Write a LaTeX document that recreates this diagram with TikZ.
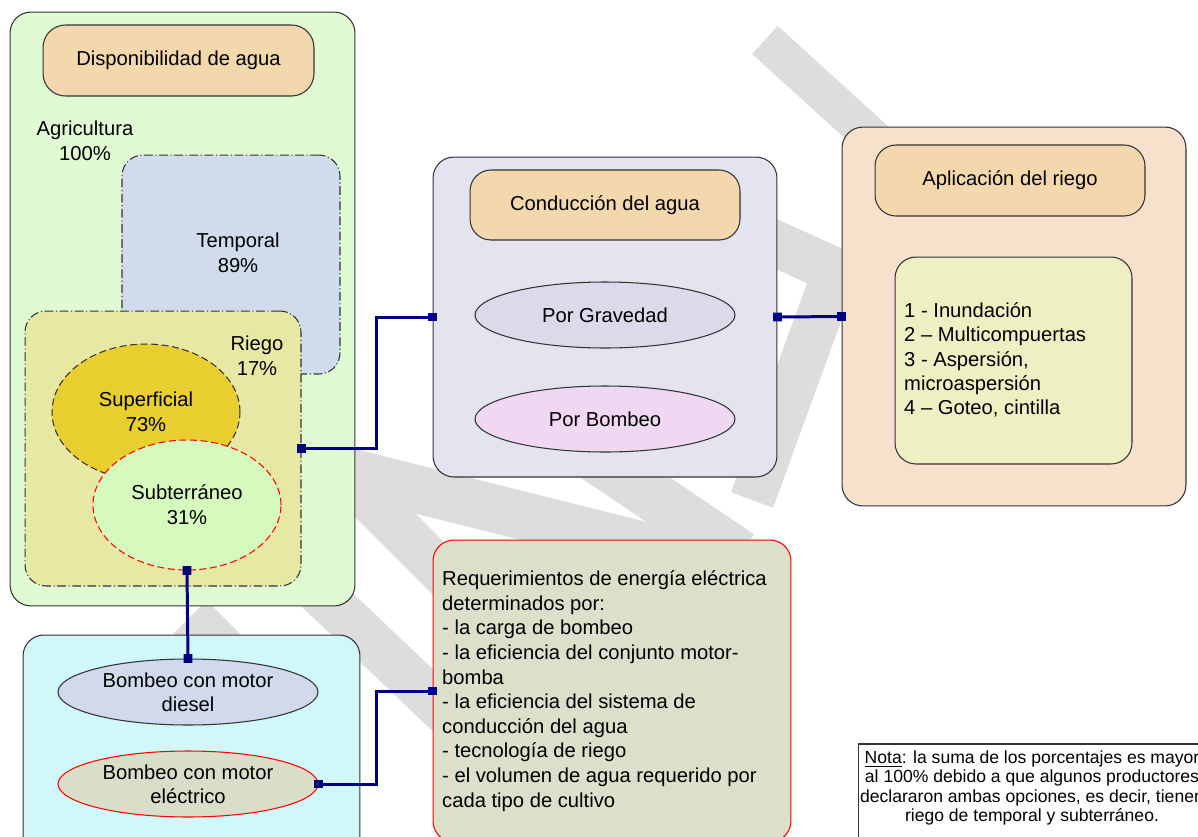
\documentclass[tikz,border=0pt]{standalone}
\usepackage{fontspec}
\setmainfont{Liberation Sans}
\usetikzlibrary{positioning, calc, shapes.geometric, arrows.meta}
\definecolor{agrigreen}{RGB}{224,250,212}
\definecolor{titlepeach}{RGB}{243,216,174}
\definecolor{tempblue}{RGB}{208,220,236}
\definecolor{riegokhaki}{RGB}{230,232,164}
\definecolor{superyellow}{RGB}{232,206,46}
\definecolor{subtgreen}{RGB}{214,250,190}
\definecolor{condlav}{RGB}{228,228,240}
\definecolor{gravlav}{RGB}{218,218,234}
\definecolor{bombpink}{RGB}{240,216,242}
\definecolor{aplpeach}{RGB}{246,226,204}
\definecolor{listyellow}{RGB}{238,240,196}
\definecolor{bombcyan}{RGB}{208,248,248}
\definecolor{dieselblue}{RGB}{208,218,236}
\definecolor{elecgray}{RGB}{218,222,200}
\definecolor{reqgray}{RGB}{220,224,202}
\definecolor{wmgray}{RGB}{221,221,221}
\definecolor{linkblue}{RGB}{0,0,128}

\begin{document}
\begin{tikzpicture}
		[x=0.02cm, y=-0.02cm, font=\fontsize{11.5}{14.2}\selectfont,
		box/.style={draw=black!80, line width=0.6pt, rounded corners=0.42cm, inner sep=0pt},
		oval/.style={draw=black!80, line width=0.6pt, ellipse, inner sep=0pt, align=center},
		wm/.style={draw=wmgray, line width=#1},
		link/.style={draw=linkblue, line width=1.7pt,
			{Square[length=5pt,width=5pt]}-{Square[length=5pt,width=5pt]},
			shorten <=-2.5pt, shorten >=-2.5pt}]
		\useasboundingbox (0,0) rectangle (1198,836);
		% watermark behind everything
		\draw[wm=0.76cm] (765,40) -- (930,190);
		\draw[wm=0.92cm] (690,205) -- (900,300);
		\draw[wm=0.9cm] (842,253) -- (752,500);
		\draw[wm=0.96cm] (300,460) -- (700,560);
		\draw[wm=1cm] (540,420) -- (740,555);
		\draw[wm=0.9cm] (320,450) -- (480,610);
		\draw[wm=0.9cm] (280,555) -- (480,745);
		\draw[wm=0.94cm] (190,617) -- (300,727);
		
		% disponibilidad
		\node (agri) [box, fill=agrigreen, minimum width=6.9cm, minimum height=11.88cm] at (182.5,309) {};
		\node (dispo) [box, fill=titlepeach, rounded corners=0.45cm, minimum width=5.42cm, minimum height=1.42cm] at (178.5,60.5) {Disponibilidad de agua};
		\node (agritxt) [align=center] at (85,141) {Agricultura\\100\%};
		\node (temp) [box, fill=tempblue, dash pattern=on 5pt off 1.5pt on 0.6pt off 1.5pt, minimum width=4.36cm, minimum height=4.38cm] at (231,264.5) {};
		\node (temptxt) [align=center] at (238,253) {Temporal\\89\%};
		\node (riego) [box, fill=riegokhaki, dash pattern=on 5pt off 1.5pt on 0.6pt off 1.5pt, minimum width=5.52cm, minimum height=5.5cm] at (163,448.5) {};
		\node (riegotxt) [align=center] at (257,356) {Riego\\17\%};
		\node (super) [oval, fill=superyellow, dash pattern=on 4pt off 2pt, minimum width=3.76cm, minimum height=2.72cm] at (146,412) {Superficial\\73\%};
		\node (subt) [oval, draw=red, fill=subtgreen, dash pattern=on 4pt off 2pt, minimum width=3.76cm, minimum height=2.6cm] at (187,505) {Subterráneo\\31\%};
		
		% conduccion
		\node (cond) [box, fill=condlav, minimum width=6.88cm, minimum height=6.4cm] at (605,317) {};
		\node (condtit) [box, fill=titlepeach, minimum width=5.4cm, minimum height=1.4cm] at (605,205) {Conducción del agua};
		\node (grav) [oval, fill=gravlav, minimum width=5.2cm, minimum height=1.32cm] at (605,315) {Por Gravedad};
		\node (bomb) [oval, fill=bombpink, minimum width=5.2cm, minimum height=1.32cm] at (605,419) {Por Bombeo};
		
		% aplicacion
		\node (apl) [box, fill=aplpeach, minimum width=6.88cm, minimum height=7.58cm] at (1014,316.5) {};
		\node (apltit) [box, fill=titlepeach, minimum width=5.4cm, minimum height=1.42cm] at (1010,180.5) {Aplicación del riego};
		\node (metodos) [box, fill=listyellow, minimum width=4.74cm, minimum height=4.14cm] at (1013.5,360.5) {};
		\node (metodostxt) [anchor=west, align=left, font=\fontsize{11.5}{13.8}\selectfont] at (898,360) {1 - Inundación\\2 – Multicompuertas\\3 - Aspersión,\\microaspersión\\4 – Goteo, cintilla};
		
		% bombeo
		\node (motores) [box, fill=bombcyan, minimum width=6.74cm, minimum height=4.5cm] at (191.5,747.5) {};
		\node (diesel) [oval, fill=dieselblue, minimum width=5.2cm, minimum height=1.32cm, font=\fontsize{11.5}{13.4}\selectfont] at (188,692) {Bombeo con motor\\diesel};
		\node (elec) [oval, draw=red, fill=elecgray, minimum width=5.2cm, minimum height=1.32cm, font=\fontsize{11.5}{13.4}\selectfont] at (188,784) {Bombeo con motor\\eléctrico};
		
		% requerimientos
		\node (req) [box, draw=red, fill=reqgray, minimum width=7.16cm, minimum height=6.04cm] at (612,691) {};
		\node (reqtxt) [anchor=west, align=left, font=\fontsize{11.5}{14}\selectfont] at (436,691) {Requerimientos de energía eléctrica\\determinados por:\\- la carga de bombeo\\- la eficiencia del conjunto motor-\\bomba\\- la eficiencia del sistema de\\conducción del agua\\- tecnología de riego\\- el volumen de agua requerido por\\cada tipo de cultivo};
		
		% nota
		\node (nota) [draw=black!80, line width=0.6pt, fill=white, minimum width=6.96cm, minimum height=2.4cm] at (1032,804) {};
		\node (notatxt) [align=center, font=\fontsize{10}{11}\selectfont] at (1032,788) {\underline{Nota}: la suma de los porcentajes es mayor\\al 100\% debido a que algunos productores\\declararon ambas opciones, es decir, tienen\\riego de temporal y subterráneo.};
		
		% enlaces
		\draw[link] (riego.east) -- ++(75,0) |- (cond.west);
		\draw[link] (subt.south) -- (diesel.north);
		\draw[link] (cond.east) -- (apl.west);
		\draw[link] (elec.east) -- ++(58,0) |- (req.west);
	\end{tikzpicture}
\end{document}
